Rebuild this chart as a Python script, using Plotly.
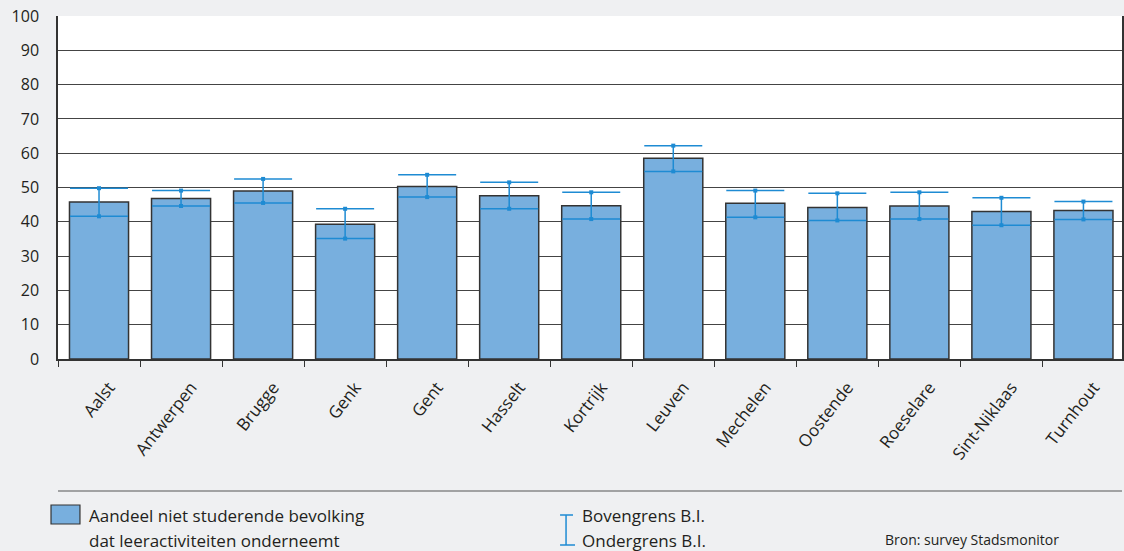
import plotly.graph_objects as go

# values
steden = ['Aalst', 'Antwerpen', 'Brugge', 'Genk', 'Gent', 'Hasselt', 'Kortrijk',
          'Leuven', 'Mechelen', 'Oostende', 'Roeselare', 'Sint-Niklaas', 'Turnhout']
aandeel = [45.8, 46.8, 49.0, 39.3, 50.3, 47.6, 44.7, 58.5, 45.4, 44.2, 44.6, 43.0, 43.3]
bovengrens = [49.8, 49.1, 52.5, 43.8, 53.7, 51.5, 48.6, 62.2, 49.1, 48.3, 48.6, 47.0, 45.9]
ondergrens = [41.6, 44.6, 45.5, 35.1, 47.2, 43.8, 40.8, 54.7, 41.3, 40.4, 40.8, 39.0, 40.7]

W, H = 1124, 551
L, T, R, B = 58, 16, 0, 192
FONT = 'Open Sans'
BLUE = '#1e8bd3'

def px(x):
    return (x - L) / (W - L - R)

def py(y):
    return (H - B - y) / (H - T - B)

fig = go.Figure()

fig.add_trace(go.Bar(
    x=steden, y=aandeel, width=0.72,
    marker=dict(color='#78afde', line=dict(color='#333333', width=1.5)),
    error_y=dict(type='data', symmetric=False,
                 array=[b - a for a, b in zip(aandeel, bovengrens)],
                 arrayminus=[a - o for a, o in zip(aandeel, ondergrens)],
                 color=BLUE, thickness=1.5, width=29),
    showlegend=False, hoverinfo='skip'))

fig.add_trace(go.Scatter(
    x=steden + steden, y=bovengrens + ondergrens, mode='markers',
    marker=dict(symbol='square', size=4, color=BLUE),
    showlegend=False, hoverinfo='skip'))

fig.update_xaxes(
    type='category', range=[-0.5, 12.47], tickangle=-52,
    tickfont=dict(family=FONT, size=17, color='#231f20'),
    ticklabelstandoff=10, ticklabelshift=10,
    ticks='outside', tickson='boundaries', ticklen=6, tickcolor='#333333',
    showline=True, linecolor='#333333', linewidth=1.5, showgrid=False)

fig.update_yaxes(
    range=[0, 100], dtick=10, showgrid=True, gridcolor='#444444', gridwidth=1,
    tickfont=dict(family=FONT, size=16, color='#231f20'), ticklabelstandoff=14,
    showline=True, linecolor='#333333', linewidth=1.5, mirror=True, zeroline=False)

shapes = [
    # separator line above legend
    dict(type='line', xref='paper', yref='paper', x0=0, x1=1, y0=py(491), y1=py(491),
         line=dict(color='#555555', width=1.2)),
    # bar swatch
    dict(type='rect', xref='paper', yref='paper', x0=px(51), x1=px(80), y0=py(524), y1=py(505),
         fillcolor='#78afde', line=dict(color='#333333', width=1.2)),
    # confidence interval icon
    dict(type='line', xref='paper', yref='paper', x0=px(567), x1=px(567), y0=py(545), y1=py(515),
         line=dict(color=BLUE, width=1.5)),
    dict(type='line', xref='paper', yref='paper', x0=px(561), x1=px(574), y0=py(515), y1=py(515),
         line=dict(color=BLUE, width=1.5)),
    dict(type='line', xref='paper', yref='paper', x0=px(561), x1=px(576), y0=py(545), y1=py(545),
         line=dict(color=BLUE, width=1.5)),
]

annotations = [
    dict(text='Aandeel niet studerende bevolking', x=px(87), y=py(515)),
    dict(text='dat leeractiviteiten onderneemt', x=px(87), y=py(540)),
    dict(text='Bovengrens B.I.', x=px(581), y=py(515)),
    dict(text='Ondergrens B.I.', x=px(581), y=py(540)),
    dict(text='Bron: survey Stadsmonitor', x=px(885), y=py(539), size=14),
]
anns = []
for a in annotations:
    anns.append(dict(text=a['text'], x=a['x'], y=a['y'], xref='paper', yref='paper',
                     xanchor='left', yanchor='middle', showarrow=False,
                     font=dict(family=FONT, size=a.get('size', 17), color='#231f20')))

fig.update_layout(
    width=W, height=H, margin=dict(l=L, r=R, t=T, b=B),
    paper_bgcolor='#eff0f2', plot_bgcolor='white',
    shapes=shapes, annotations=anns, showlegend=False)

fig.write_html('out.html', config={'displayModeBar': False},
               post_script="document.body.style.margin='0';document.body.style.overflow='hidden';")
